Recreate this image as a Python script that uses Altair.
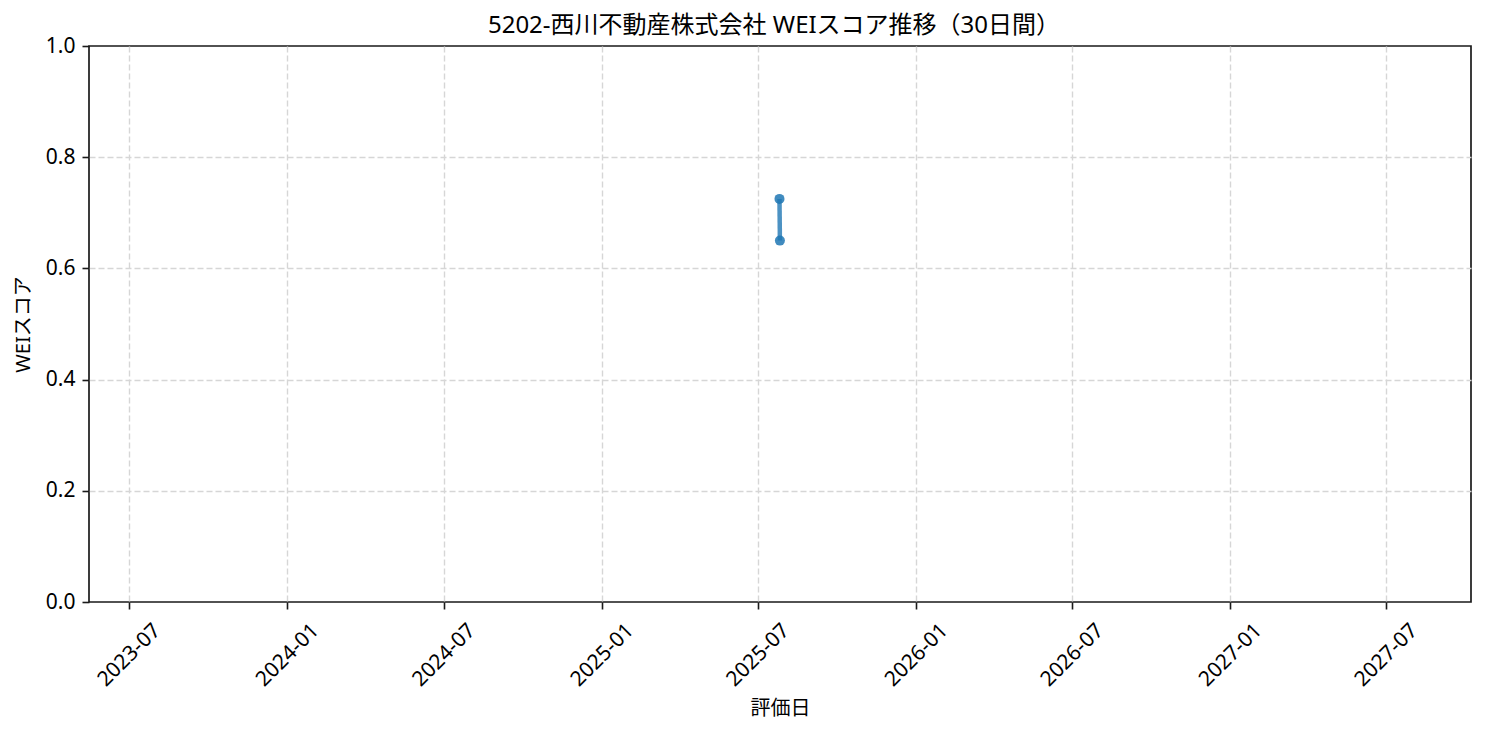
import altair as alt
import pandas as pd

# data
title_text = ["5202-西川不動産株式会社 WEIスコア推移（30日間）"]
dates = ["2025-07-26T00:00:00", "2025-07-26T12:00:00"]
scores = [0.725, 0.65]
y_ticks = [0.0, 0.2, 0.4, 0.6, 0.8, 1.0]
x_tick_years_months = [(2023, 7), (2024, 1), (2024, 7), (2025, 1), (2025, 7),
                       (2026, 1), (2026, 7), (2027, 1), (2027, 7)]

df = pd.DataFrame({"date": dates, "score": scores})
tdf = pd.DataFrame({"t": title_text})

FONT = "'Noto Sans', 'Noto Sans CJK JP', sans-serif"
W, H = 1382, 556

x_values = [alt.DateTime(year=y, month=m, date=1) for y, m in x_tick_years_months]
x_domain = [alt.DateTime(year=2023, month=5, date=15, hours=12),
            alt.DateTime(year=2027, month=10, date=7, hours=17)]

x = alt.X(
    "date:T",
    title="評価日",
    scale=alt.Scale(domain=x_domain, nice=False),
    axis=alt.Axis(
        values=x_values, format="%Y-%m", labelAngle=-45, labelAlign="center",
        labelBaseline="middle", labelPadding=46, tickSize=7, tickWidth=1.6,
        tickColor="#1a1a1a", domain=False, grid=True, gridDash=[6, 3],
        gridColor="#d6d6d6", gridWidth=1.4, titleY=106, titleBaseline="middle",
        labelFlush=False, labelOverlap=False,
    ),
)
y = alt.Y(
    "score:Q",
    title="WEIスコア",
    scale=alt.Scale(domain=[0, 1], nice=False, zero=True),
    axis=alt.Axis(
        values=y_ticks, format=".1f", tickSize=7, tickWidth=1.6, tickColor="#1a1a1a",
        labelPadding=7, domain=False, grid=True, gridDash=[6, 3],
        gridColor="#d6d6d6", gridWidth=1.4,
        gridOpacity={"condition": {"test": "datum.value <= 0 || datum.value >= 1", "value": 0}, "value": 1},
        titleX=-66, titleY=278, titleAlign="center", titleBaseline="middle",
    ),
)

line = alt.Chart(df).mark_line(color="#1f77b4", opacity=0.8, strokeWidth=4.5).encode(x=x, y=y)
pts = alt.Chart(df).mark_circle(color="#1f77b4", opacity=0.85, size=100).encode(x=x, y=y)
title = alt.Chart(tdf).mark_text(
    font=FONT, fontSize=24, color="black", align="center", baseline="alphabetic",
).encode(text="t:N", x=alt.value(W / 2 - 6), y=alt.value(-13))

chart = (
    alt.layer(line, pts, title)
    .properties(
        width=W,
        height=H,
        autosize=alt.AutoSizeParams(type="none"),
        padding={"left": 81, "top": 38, "right": 6, "bottom": 125},
    )
    .configure_view(stroke="#1a1a1a", strokeWidth=1.7)
    .configure_axis(
        labelFont=FONT, titleFont=FONT, labelFontSize=21, titleFontSize=20,
        labelColor="black", titleColor="black", titleFontWeight="normal",
    )
)

chart.save("out.html", embed_options={"renderer": "svg", "actions": False})
